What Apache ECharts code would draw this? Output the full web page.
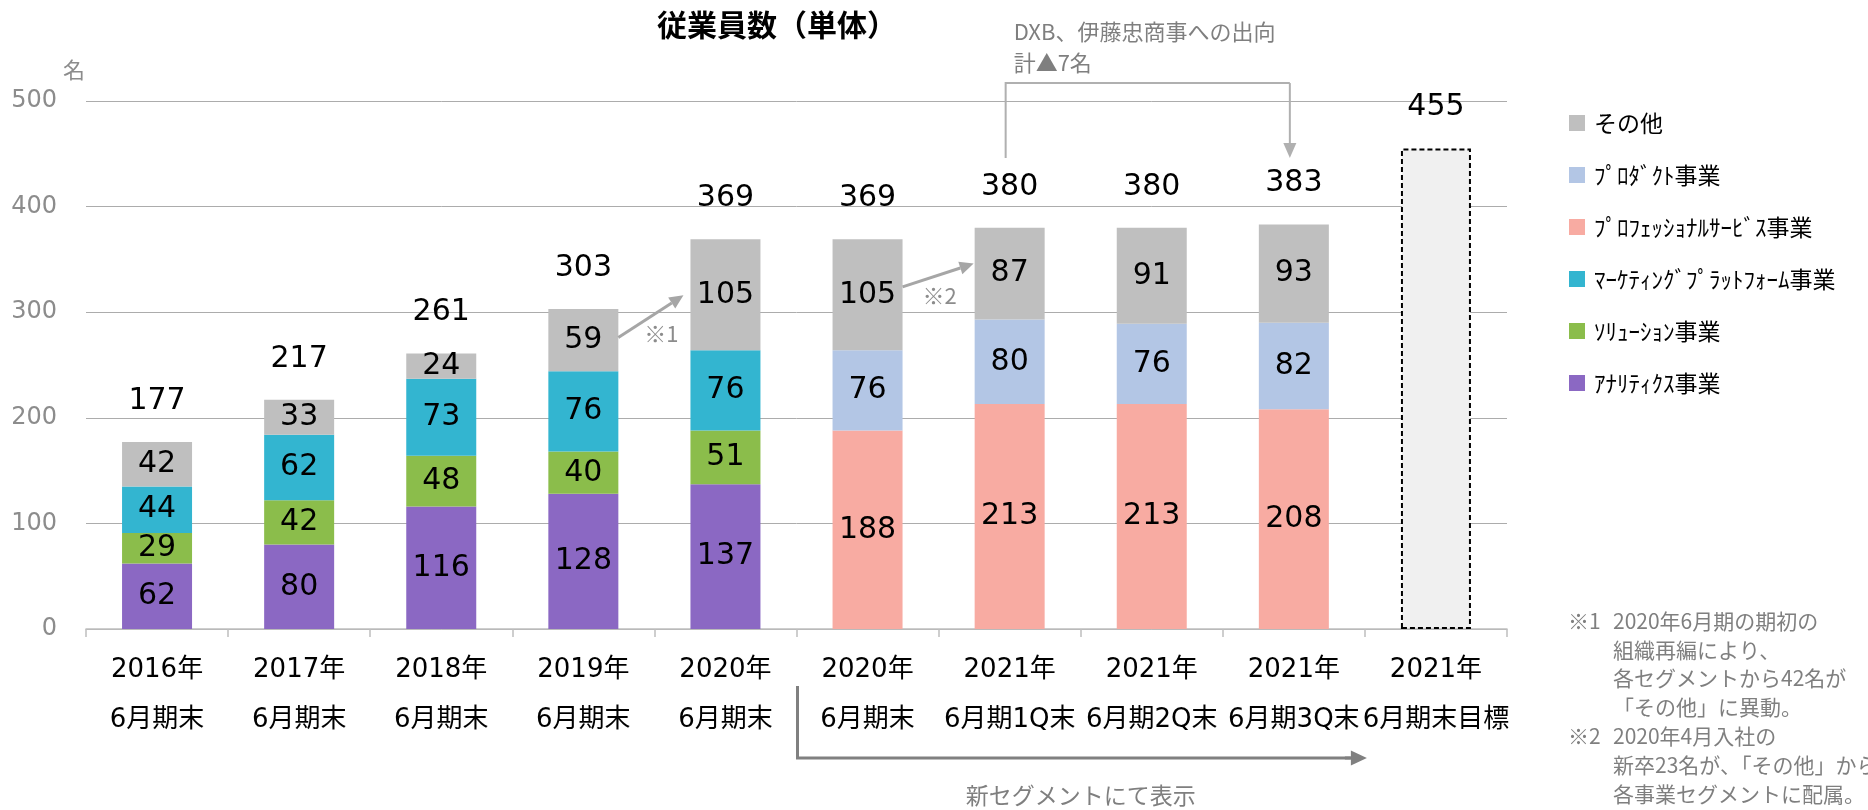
<!DOCTYPE html>
<html>
<head>
<meta charset="utf-8">
<script src="https://cdn.jsdelivr.net/npm/echarts@6/dist/echarts.min.js"></script>
<style>
  html, body { margin: 0; padding: 0; background: #fff; }
  #chart { width: 1868px; height: 810px; }
</style>
</head>
<body>
<div id="chart"></div>
<script>
// 横軸ラベル（2段）
const yearLabels = ['2016年', '2017年', '2018年', '2019年', '2020年', '2020年', '2021年', '2021年', '2021年', '2021年'];
const periodLabels = ['6月期末', '6月期末', '6月期末', '6月期末', '6月期末', '6月期末', '6月期1Q末', '6月期2Q末', '6月期3Q末', '6月期末目標'];

// 旧セグメント
const analytics = [62, 80, 116, 128, 137, '-', '-', '-', '-', '-'];
const solution = [29, 42, 48, 40, 51, '-', '-', '-', '-', '-'];
const marketing = [44, 62, 73, 76, 76, '-', '-', '-', '-', '-'];
// 新セグメント
const professional = ['-', '-', '-', '-', '-', 188, 213, 213, 208, '-'];
const product = ['-', '-', '-', '-', '-', 76, 80, 76, 82, '-'];
const other = [42, 33, 24, 59, 105, 105, 87, 91, 93, '-'];
// 合計（最後は目標）
const totals = [177, 217, 261, 303, 369, 369, 380, 380, 383, 455];

const names = ['ｱﾅﾘﾃｨｸｽ事業', 'ｿﾘｭｰｼｮﾝ事業', 'ﾏｰｹﾃｨﾝｸﾞﾌﾟﾗｯﾄﾌｫｰﾑ事業', 'ﾌﾟﾛﾌｪｯｼｮﾅﾙｻｰﾋﾞｽ事業', 'ﾌﾟﾛﾀﾞｸﾄ事業', 'その他'];
const colors = ['#8b68c3', '#8bbd4b', '#33b5d0', '#f8aba2', '#b3c6e5', '#bfbfbf'];
const segData = [analytics, solution, marketing, professional, product, other];

const numFont = "'DejaVu Sans', 'Noto Sans CJK JP'";
const jpFont = "'Noto Sans CJK JP', 'DejaVu Sans'";
const barW = 70;

const chart = echarts.init(document.getElementById('chart'));

let series = segData.map(function (d, i) {
  return {
    name: names[i],
    type: 'bar',
    stack: 'all',
    barWidth: barW,
    z: 3,
    itemStyle: { color: colors[i] },
    label: {
      show: true,
      position: 'inside',
      fontSize: 30,
      fontFamily: numFont,
      color: '#000'
    },
    data: d
  };
});

series.push({
  name: 'total',
  type: 'bar',
  barWidth: barW,
  barGap: '-100%',
  z: 1,
  label: {
    show: true,
    position: 'top',
    distance: 26,
    fontSize: 30,
    fontFamily: numFont,
    color: '#000'
  },
  data: totals.map(function (v, i) {
    if (i === totals.length - 1) {
      return {
        value: v,
        itemStyle: { color: '#f0f0f0', borderColor: '#000', borderWidth: 2, borderType: [5, 3] }
      };
    }
    return { value: v, itemStyle: { color: 'rgba(0,0,0,0)' } };
  })
});

const option = {
  animation: false,
  backgroundColor: '#fff',
  title: {
    text: '従業員数（単体）',
    left: 652,
    top: 5,
    textStyle: { fontSize: 30, fontWeight: 'bold', fontFamily: jpFont, color: '#000' }
  },
  legend: {
    orient: 'vertical',
    left: 1564,
    top: 106,
    itemWidth: 16,
    itemHeight: 16,
    itemGap: 28,
    icon: 'rect',
    selectedMode: false,
    data: names.slice().reverse(),
    textStyle: { fontSize: 23, lineHeight: 24, fontFamily: jpFont, color: '#000', padding: [0, 0, 0, 4] }
  },
  grid: { left: 86, right: 361, top: 101, bottom: 181 },
  xAxis: {
    type: 'category',
    data: yearLabels.map(function (y, i) { return y + '\n' + periodLabels[i]; }),
    axisLine: { lineStyle: { color: '#bfbfbf', width: 1.5 } },
    axisTick: { show: true, length: 8, lineStyle: { color: '#bfbfbf', width: 1.5 } },
    axisLabel: {
      interval: 0,
      margin: 16,
      fontSize: 26,
      lineHeight: 50,
      fontFamily: numFont,
      color: '#000'
    }
  },
  yAxis: {
    type: 'value',
    min: 0,
    max: 500,
    interval: 100,
    axisLine: { show: false },
    axisTick: { show: false },
    splitLine: { lineStyle: { color: '#acacac', width: 1 } },
    axisLabel: { margin: 29, fontSize: 24, fontFamily: numFont, color: '#8c8c8c' }
  },
  series: series
};

chart.setOption(option);

// 注記（軸座標から位置を算出）
const p0 = chart.convertToPixel({ gridIndex: 0 }, [0, 0]);
const p1 = chart.convertToPixel({ gridIndex: 0 }, [1, 100]);
const band = p1[0] - p0[0];
const unit = (p0[1] - p1[1]) / 100;
function X(c) { return p0[0] + c * band; }
function Y(v) { return p0[1] - v * unit; }
const axisY = Y(0);

function arrow(x1, y1, x2, y2, color, w, hl, hw) {
  const a = Math.atan2(y2 - y1, x2 - x1);
  const bx = x2 - hl * Math.cos(a), by = y2 - hl * Math.sin(a);
  const nx = -Math.sin(a) * hw / 2, ny = Math.cos(a) * hw / 2;
  return [
    { type: 'line', silent: true, z: 10, shape: { x1: x1, y1: y1, x2: bx, y2: by }, style: { stroke: color, lineWidth: w } },
    { type: 'polygon', silent: true, z: 10, shape: { points: [[x2, y2], [bx + nx, by + ny], [bx - nx, by - ny]] }, style: { fill: color } }
  ];
}

function txt(x, y, text, size, color, align, vAlign, lh) {
  return {
    type: 'text', silent: true, z: 10, x: x, y: y,
    style: {
      text: text, fill: color, fontSize: size, fontFamily: jpFont,
      align: align || 'left', verticalAlign: vAlign || 'top', lineHeight: lh || size
    }
  };
}

const half = barW / 2;
let g = [];
// ※1
g = g.concat(arrow(X(3) + half, Y(276), X(4) - 42, Y(316), '#a6a6a6', 3, 14, 13));
g.push(txt(X(3.5) + 7, Y(280), '※1', 22, '#8c8c8c', 'center', 'middle'));
// ※2
g = g.concat(arrow(X(5) + half, Y(324), X(6) - 36, Y(346), '#a6a6a6', 3, 14, 13));
g.push(txt(X(5.5) + 1, Y(316), '※2', 22, '#8c8c8c', 'center', 'middle'));
// DXB 出向
g.push({
  type: 'polyline', silent: true, z: 10,
  shape: { points: [[X(6) - 4, Y(446)], [X(6) - 4, Y(517)], [X(8) - 4, Y(517)]] },
  style: { stroke: '#b0b0b0', lineWidth: 2, fill: null }
});
g = g.concat(arrow(X(8) - 4, Y(517), X(8) - 4, Y(446), '#b0b0b0', 2, 15, 13));
g.push(txt(X(6) + 4, 16, 'DXB、伊藤忠商事への出向\n計▲7名', 22, '#7f7f7f', 'left', 'top', 31));
// 新セグメント
g.push({
  type: 'polyline', silent: true, z: 10,
  shape: { points: [[X(4.5) + 1, axisY + 57], [X(4.5) + 1, axisY + 129], [X(8.5) - 14, axisY + 129]] },
  style: { stroke: '#808080', lineWidth: 3, fill: null }
});
g = g.concat(arrow(X(8.5) - 20, axisY + 129, X(8.5) + 2, axisY + 129, '#808080', 3, 16, 15));
g.push(txt(X(6.5), axisY + 166, '新セグメントにて表示', 23, '#7f7f7f', 'center', 'middle'));
// 単位
g.push(txt(X(-0.5) - 12, Y(500) - 31, '名', 22, '#8c8c8c', 'center', 'middle'));
// 脚注
g.push(txt(1568, 607, '※1', 21, '#7f7f7f', 'left', 'top', 28.5));
g.push(txt(1613, 607, '2020年6月期の期初の\n組織再編により、\n各セグメントから42名が\n「その他」に異動。', 21, '#7f7f7f', 'left', 'top', 28.5));
g.push(txt(1568, 722, '※2', 21, '#7f7f7f', 'left', 'top', 29));
g.push(txt(1613, 722, '2020年4月入社の\n新卒23名が、「その他」から\n各事業セグメントに配属。', 21, '#7f7f7f', 'left', 'top', 29));

chart.setOption({ graphic: g });
</script>
</body>
</html>
